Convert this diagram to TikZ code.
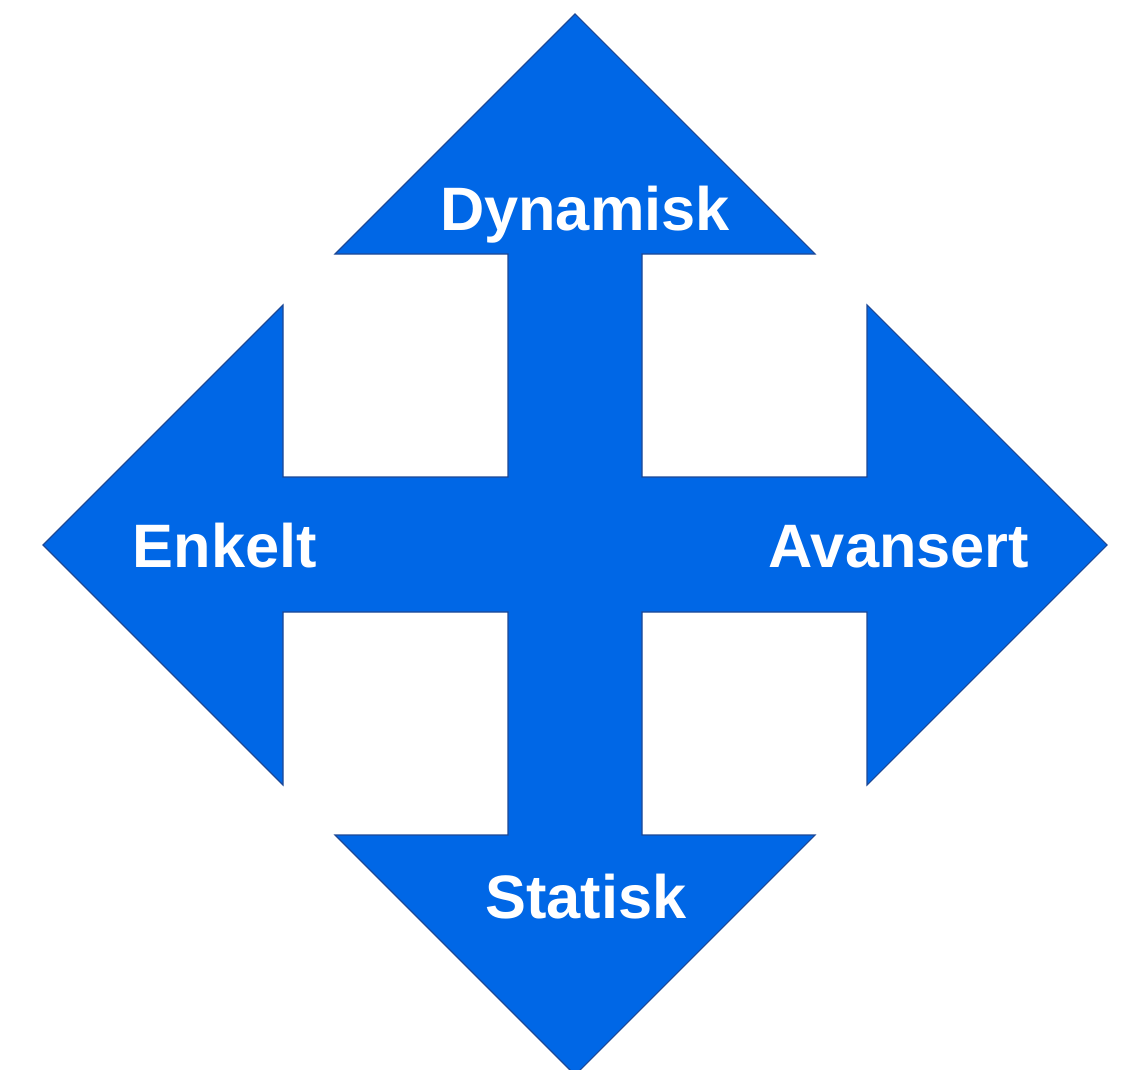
\documentclass[tikz,border=0pt]{standalone}
\usepackage{fontspec}
\setmainfont{Liberation Sans}
\definecolor{arrowblue}{RGB}{0,103,230}
\definecolor{edgeblue}{RGB}{28,72,150}
\tikzset{
    lbl/.style={text=white, font=\bfseries\fontsize{46}{50}\selectfont, anchor=base, inner sep=0pt}
}
\begin{document}
\begin{tikzpicture}[x=0.75pt, y=-0.75pt]
        \useasboundingbox (0,0) rectangle (1132,1070);
        \draw[fill=arrowblue, draw=edgeblue, line width=0.8pt] (575,14) -- (815,254) -- (642,254) -- (642,477) -- (867,477) -- (867,305)
            -- (1107,545) -- (867,785) -- (867,612) -- (642,612) -- (642,835) -- (815,835)
            -- (575,1075) -- (335,835) -- (508,835) -- (508,612) -- (283,612) -- (283,785)
            -- (43,545) -- (283,305) -- (283,477) -- (508,477) -- (508,254) -- (335,254) -- cycle;
        \foreach \name/\x/\y/\txt in {dyn/585/231/Dynamisk, enk/225/567/Enkelt, ava/899/567/Avansert, sta/586/918/Statisk}
        {
                \node[lbl] (\name) at (\x,\y) {\txt};
        }
    \end{tikzpicture}
\end{document}
